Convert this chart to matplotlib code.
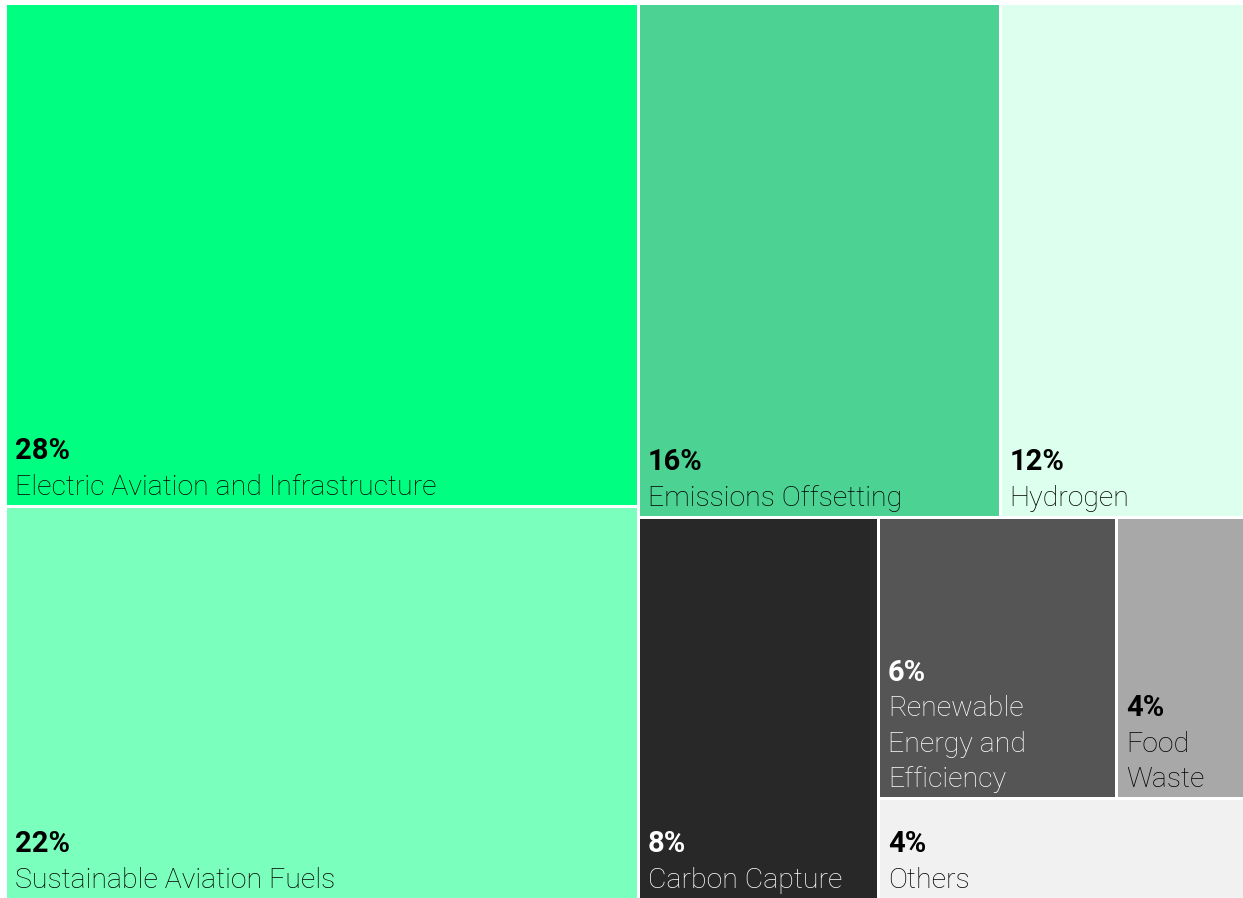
import matplotlib
matplotlib.use("Agg")
import matplotlib.pyplot as plt
from matplotlib.patches import Rectangle

# ---- data ----
categories = ["Electric Aviation and Infrastructure", "Sustainable Aviation Fuels",
              "Emissions Offsetting", "Hydrogen", "Carbon Capture",
              "Renewable Energy and Efficiency", "Food Waste", "Others"]
label_lines = [["Electric Aviation and Infrastructure"], ["Sustainable Aviation Fuels"],
               ["Emissions Offsetting"], ["Hydrogen"], ["Carbon Capture"],
               ["Renewable", "Energy and", "Efficiency"], ["Food", "Waste"], ["Others"]]
# shares estimated from the tile areas (displayed labels are rounded)
shares = [28.05, 21.95, 16.4, 12.3, 8.1, 5.9, 3.85, 3.5]
pct_labels = ["28%", "22%", "16%", "12%", "8%", "6%", "4%", "4%"]
colors = ["#00FF80", "#7BFFBC", "#4CD293", "#DCFFEE", "#282828", "#555555", "#A8A8A8", "#F1F1F1"]
text_colors = ["black", "black", "black", "black", "white", "white", "black", "black"]

# layout plan: (indices in strip, strip orientation)
plan = [([0, 1], "col"), ([2, 3], "row"), ([4], "col"), ([5, 6], "row"), ([7], "col")]

W_PX, H_PX = 1243, 898
fig = plt.figure(figsize=(W_PX / 100, H_PX / 100), dpi=100)
ax = fig.add_axes([0, 0, 1, 1])
ax.set_xlim(0, W_PX)
ax.set_ylim(H_PX, 0)
ax.axis("off")

# treemap domain (extends slightly beyond the right/bottom edge, as in the reference)
x, y, w, h = 5.5, 3.5, 1266.0, 896.0
remaining = float(sum(shares))
rects = {}
for idx, orient in plan:
    s = sum(shares[i] for i in idx)
    frac = s / remaining
    if orient == "col":
        sw = w * frac
        yy = y
        for i in idx:
            hh = h * shares[i] / s
            rects[i] = (x, yy, sw, hh)
            yy += hh
        x += sw
        w -= sw
    else:
        sh = h * frac
        xx = x
        for i in idx:
            ww = w * shares[i] / s
            rects[i] = (xx, y, ww, sh)
            xx += ww
        y += sh
        h -= sh
    remaining -= s

gap = 1.5
fam = ["Roboto", "DejaVu Sans"]
line_h = 35.5
for i in range(len(shares)):
    rx, ry, rw, rh = rects[i]
    vx, vy = rx + gap, ry + gap
    vw, vh = rw - 2 * gap, rh - 2 * gap
    ax.add_patch(Rectangle((vx, vy), vw, vh, facecolor=colors[i], edgecolor="none"))
    bottom = min(vy + vh, H_PX)
    base = bottom - 10
    lines = label_lines[i]
    tx = vx + 8
    for k, line in enumerate(reversed(lines)):
        ax.text(tx, base - k * line_h, line, fontsize=20.5, family=fam, fontweight="light",
                color=text_colors[i], va="baseline", ha="left")
    ax.text(tx, base - len(lines) * line_h, pct_labels[i], fontsize=21, family=fam,
            fontweight="bold", color=text_colors[i], va="baseline", ha="left")

fig.savefig("out.png", dpi=100)
